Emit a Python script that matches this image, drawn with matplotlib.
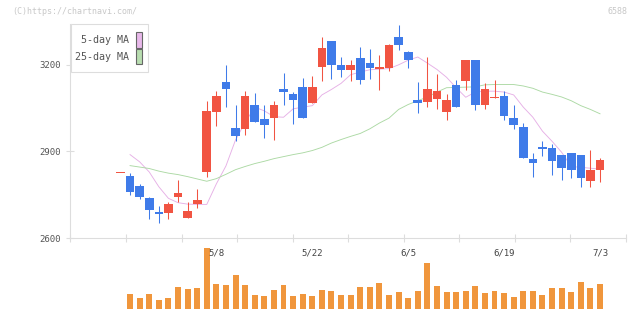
import numpy as np
import pandas as pd
import matplotlib
matplotlib.use("Agg")
import matplotlib.pyplot as plt
from matplotlib.patches import Rectangle

# trading days, golden week holidays skipped
dates = pd.bdate_range("2023-04-19", "2023-07-03", freq="C",
                       holidays=["2023-05-03", "2023-05-04", "2023-05-05"])

opens = [2824, 2814, 2780, 2738, 2690, 2688, 2742, 2671, 2718, 2829,
         3036, 3138, 2980, 2977, 3062, 3011, 3015, 3114, 3100, 3124,
         3067, 3191, 3283, 3200, 3180, 3224, 3207, 3186, 3187, 3296,
         3245, 3079, 3070, 3080, 3036, 3128, 3142, 3217, 3060, 3085,
         3090, 3017, 2983, 2873, 2914, 2911, 2887, 2894, 2887, 2798, 2836]
highs = [2824, 2824, 2787, 2743, 2711, 2725, 2801, 2725, 2770, 3073,
         3107, 3200, 3059, 3108, 3101, 3062, 3073, 3172, 3104, 3152,
         3159, 3294, 3283, 3227, 3214, 3262, 3252, 3234, 3272, 3338,
         3248, 3138, 3227, 3169, 3100, 3148, 3217, 3217, 3135, 3145,
         3107, 3062, 2997, 2894, 2935, 2925, 2887, 2894, 2887, 2904, 2876]
lows = [2824, 2749, 2734, 2665, 2652, 2665, 2726, 2671, 2705, 2812,
        2988, 3053, 2936, 2957, 3001, 2946, 2938, 3060, 2994, 3015,
        3067, 3142, 3149, 3156, 3142, 3132, 3149, 3111, 3177, 3249,
        3187, 3032, 3053, 3046, 3008, 3053, 3111, 3043, 3046, 3085,
        3008, 2977, 2877, 2812, 2884, 2819, 2802, 2809, 2778, 2778, 2795]
closes = [2824, 2760, 2743, 2697, 2684, 2718, 2757, 2695, 2733, 3038,
          3093, 3115, 2953, 3090, 3001, 2991, 3059, 3104, 3079, 3015,
          3124, 3258, 3198, 3180, 3200, 3146, 3187, 3190, 3269, 3268,
          3215, 3067, 3114, 3107, 3079, 3053, 3217, 3060, 3114, 3089,
          3022, 2991, 2877, 2860, 2907, 2867, 2843, 2836, 2809, 2835, 2870]
# thousand shares
volume = [0, 45, 33, 45, 27, 33, 66, 60, 63, 183,
          75, 72, 102, 72, 42, 39, 57, 72, 39, 45,
          39, 57, 54, 42, 42, 66, 66, 78, 42, 51,
          33, 54, 138, 69, 51, 51, 54, 69, 48, 54,
          48, 36, 54, 54, 42, 63, 63, 51, 81, 63, 75]
ma5 = [np.nan, 2889, 2864, 2829, 2778, 2738, 2723, 2718, 2717, 2717,
       2788, 2850, 2940, 3000, 3053, 3040, 3020, 3018, 3047, 3053,
       3058, 3095, 3114, 3135, 3165, 3174, 3182, 3184, 3186, 3199,
       3215, 3226, 3205, 3183, 3156, 3120, 3087, 3105, 3108, 3108,
       3105, 3095, 3053, 3018, 2970, 2935, 2897, 2848, 2845, 2842, 2839]
ma25 = [np.nan, 2851, 2846, 2841, 2832, 2825, 2820, 2813, 2805, 2797,
        2806, 2821, 2837, 2848, 2858, 2866, 2875, 2882, 2889, 2895,
        2903, 2914, 2929, 2941, 2952, 2962, 2978, 2998, 3015, 3045,
        3062, 3075, 3088, 3105, 3120, 3121, 3122, 3123, 3130, 3131,
        3131, 3131, 3126, 3118, 3105, 3097, 3088, 3075, 3058, 3045, 3030]

RED = "#f15442"
BLUE = "#3f7be9"
W, H = 640, 311

def box(l, t, r, b):
    # pixel box -> figure fractions
    return [l / W, 1 - b / H, (r - l) / W, (b - t) / H]

fig = plt.figure(figsize=(6.4, 3.11), dpi=100)
mono = "DejaVu Sans Mono"

x = np.arange(len(dates))
o, h, l, c = map(np.array, (opens, highs, lows, closes))
col = np.where(c >= o, RED, BLUE)
xlim = (-5.22, 52.71)

# volume panel
axv = fig.add_axes(box(70.4, 248, 626, 309))
axv.bar(x, volume, width=0.62, color="#f0963c", lw=0)
axv.set_xlim(*xlim)
axv.set_ylim(0, max(volume))
axv.axis("off")

# price panel
ax = fig.add_axes(box(70.4, 24, 626, 238.3))
ax.set_facecolor("none")
ax.plot(x, ma5, color="#e6b0e6", lw=0.65, zorder=1)
ax.plot(x, ma25, color="#acd9a4", lw=0.65, zorder=1)
ax.vlines(x, l, h, colors=col, lw=0.75, zorder=2)
ax.bar(x, np.maximum(np.abs(c - o), 3.5), bottom=np.minimum(o, c),
       width=0.9, color=col, lw=0, zorder=3)

ax.set_xlim(*xlim)
ax.set_ylim(2600, 3340)
for s in ("top", "right"):
    ax.spines[s].set_visible(False)
for s in ("left", "bottom"):
    ax.spines[s].set_color("#dddddd")
    ax.spines[s].set_linewidth(0.8)

ax.set_yticks([2600, 2900, 3200])
ax.tick_params(axis="y", direction="inout", length=6, width=0.8,
               color="#dddddd", labelsize=6.5, labelcolor="#555555", pad=4)
for t in ax.get_yticklabels():
    t.set_family(mono)

ax.set_xticks(np.linspace(xlim[0], xlim[1], 11))
ax.tick_params(axis="x", which="major", direction="inout", length=6,
               width=0.8, color="#dddddd", labelbottom=False)
ax.set_xticks(x[10::10], minor=True)
ax.set_xticklabels([f"{d.month}/{d.day}" for d in dates[10::10]], minor=True,
                   family=mono)
ax.tick_params(axis="x", which="minor", length=0, labelsize=6.5,
               labelcolor="#444444", pad=7)

# legend
fig.add_artist(Rectangle(box(70.7, 24.3, 148, 71.7)[:2],
                         *box(70.7, 24.3, 148, 71.7)[2:],
                         transform=fig.transFigure, fc="white",
                         ec="#dddddd", lw=0.8))
for label, color, yc in (("5-day MA", "#e8b8ea", 40), ("25-day MA", "#b8ddb0", 56.7)):
    fig.text(129.3 / W, 1 - yc / H, label, ha="right", va="center",
             fontsize=7.2, color="#555555", family=mono)
    b = box(136.3, yc - 7.6, 142.3, yc + 7.6)
    fig.add_artist(Rectangle(b[:2], *b[2:], transform=fig.transFigure,
                             fc=color, ec="#666666", lw=0.8))

fig.text(12 / W, 1 - 12 / H, "(C)https://chartnavi.com/", ha="left",
         va="center", fontsize=6, color="#c8c8c8", family=mono)
fig.text(628 / W, 1 - 12 / H, "6588", ha="right", va="center",
         fontsize=6, color="#c8c8c8", family=mono)

fig.savefig("out.png", dpi=100)
